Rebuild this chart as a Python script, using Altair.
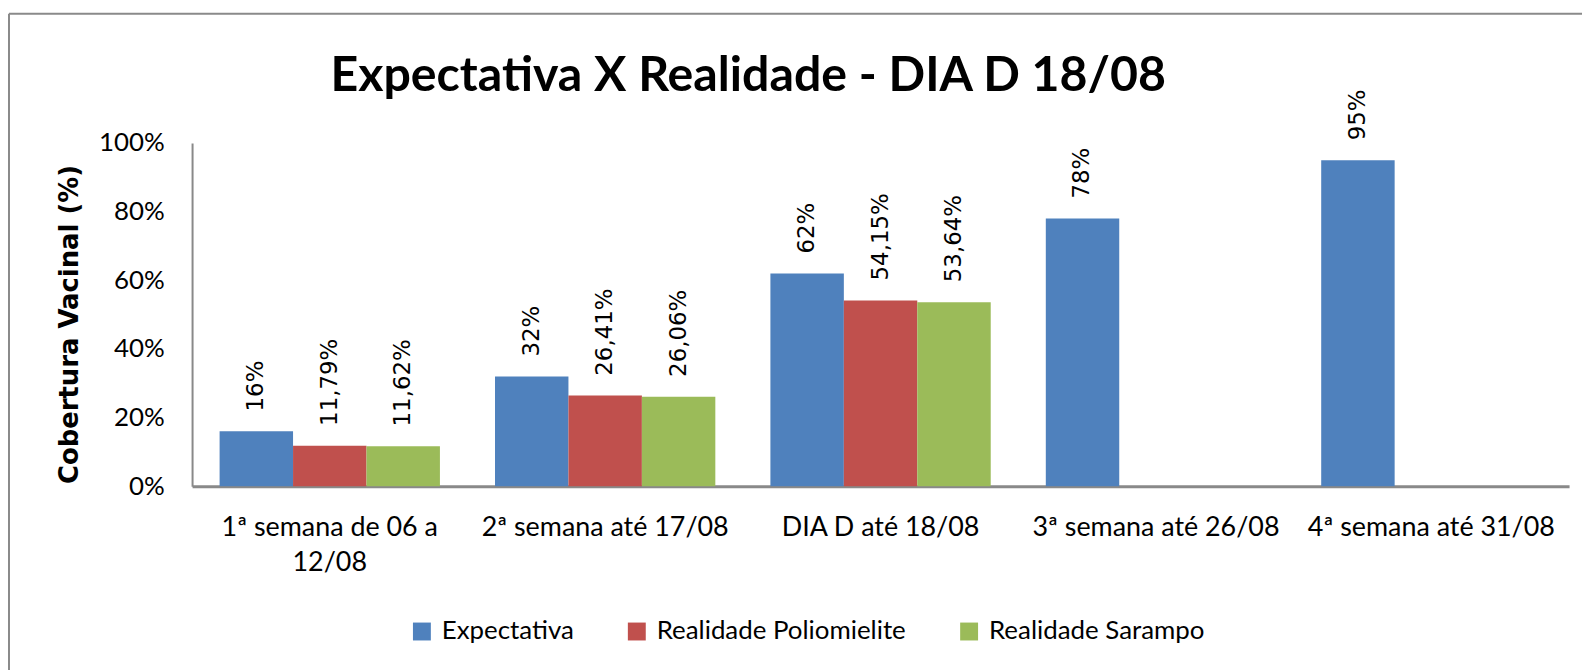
import altair as alt
import pandas as pd

categories = ["1ª semana de 06 a 12/08", "2ª semana até 17/08", "DIA D até 18/08",
              "3ª semana até 26/08", "4ª semana até 31/08"]
series = ["Expectativa", "Realidade Poliomielite", "Realidade Sarampo"]
expectativa = [0.16, 0.32, 0.62, 0.78, 0.95]
poliomielite = [0.1179, 0.2641, 0.5415, None, None]
sarampo = [0.1162, 0.2606, 0.5364, None, None]
decimals = [0, 2, 2]
colors = ["#4F81BD", "#C0504D", "#9BBB59"]
y_ticks = [0, 0.2, 0.4, 0.6, 0.8, 1.0]
title_text = "Expectativa X Realidade - DIA D 18/08"

rows = []
for s, vals, dec in zip(series, [expectativa, poliomielite, sarampo], decimals):
    for c, v in zip(categories, vals):
        if v is None:
            continue
        label = f"{v * 100:.{dec}f}%".replace(".", ",")
        rows.append(dict(categoria=c, serie=s, valor=v, rotulo=label))
df = pd.DataFrame(rows)

W, H = 1384, 345
PAD_L, PAD_T = 185, 134
OX, OY = 8 + PAD_L, 8 + PAD_T  # page position of the plot origin

x = alt.X(
    "categoria:N", sort=categories,
    scale=alt.Scale(paddingInner=0.2, paddingOuter=0.1),
    axis=alt.Axis(
        title=None, labelAngle=0, ticks=False, labelPadding=29,
        labelFont="Lato", labelFontSize=27, labelColor="black",
        labelLineHeight=35, labelOverlap=False, labelLimit=400,
        labelBaseline="top",
        domainColor="#898989", domainWidth=3,
        labelExpr="datum.label == '1ª semana de 06 a 12/08' ? ['1ª semana de 06 a', '12/08'] : datum.label",
    ),
)
xo = alt.XOffset("serie:N", sort=series, scale=alt.Scale(domain=series))
y = alt.Y(
    "valor:Q", scale=alt.Scale(domain=[0, 1]),
    axis=alt.Axis(
        values=y_ticks, format=".0%", grid=False, ticks=False,
        labelPadding=28, labelFont="Lato", labelFontSize=26, labelColor="black",
        domainColor="#898989", domainWidth=2,
        title="Cobertura Vacinal (%)", titleFont="DejaVu Sans", titleFontWeight="bold",
        titleFontSize=26, titleColor="black", titleAngle=270,
        titleAlign="center", titleBaseline="middle", titleX=-123, titleY=182,
    ),
)

base = alt.Chart(df)
bars = base.mark_bar().encode(
    x=x, xOffset=xo, y=y,
    color=alt.Color(
        "serie:N", scale=alt.Scale(domain=series, range=colors),
        legend=alt.Legend(
            title=None, orient="none", legendX=218, legendY=478,
            direction="horizontal", symbolType="square", symbolSize=324,
            symbolStrokeWidth=0, labelFont="Lato", labelFontSize=26,
            labelColor="black", labelOffset=7, columnPadding=50, padding=0,
            labelLimit=400,
        ),
    ),
)
labels = base.mark_text(
    angle=270, align="left", baseline="middle", dx=20,
    font="DejaVu Sans", fontSize=23, color="black",
).encode(x=x, xOffset=xo, y=y, text="rotulo:N")

frame_df = pd.DataFrame({"k": [0]})
left_line = alt.Chart(frame_df).mark_rule(color="#8a8a8a", strokeWidth=2).encode(
    x=alt.value(9 - OX), y=alt.value(12 - OY), y2=alt.value(700)
)
top_line = alt.Chart(frame_df).mark_rule(color="#8a8a8a", strokeWidth=2).encode(
    x=alt.value(9 - OX), x2=alt.value(1600), y=alt.value(12 - OY)
)
title_mark = alt.Chart(frame_df).mark_text(
    text=title_text, font="Lato", fontWeight="bold",
    fontSize=48.5, color="black", align="center", baseline="alphabetic",
).encode(x=alt.value(752 - OX), y=alt.value(90 - OY))

chart = alt.layer(left_line, top_line, title_mark, bars, labels).properties(
    width=W, height=H,
    autosize=alt.AutoSizeParams(type="none"),
    padding={"left": PAD_L, "top": PAD_T, "right": 13, "bottom": 183},
).configure(background="white").configure_view(stroke=None)

chart.save("out.html", embed_options={"renderer": "svg", "actions": False})
